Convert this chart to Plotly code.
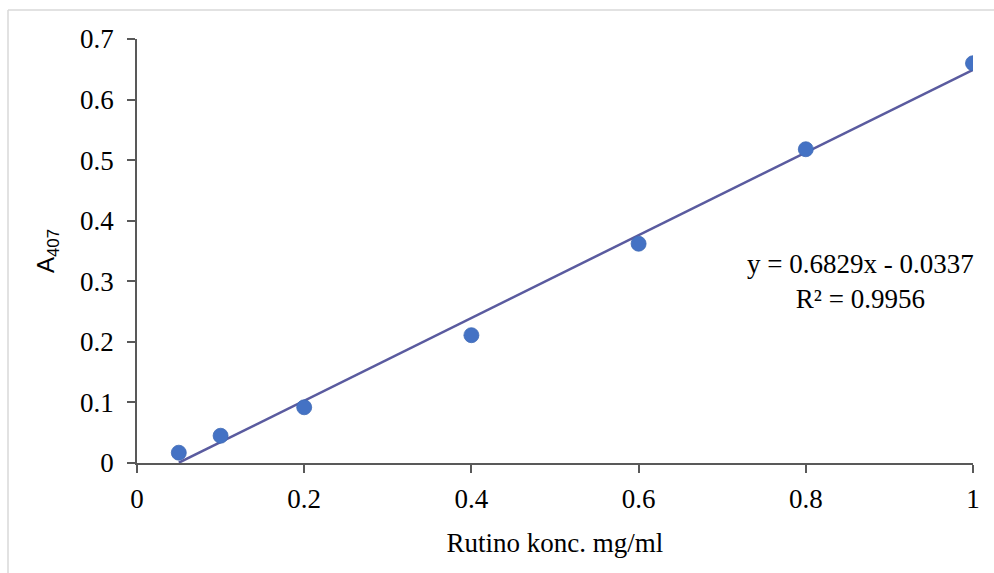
import plotly.graph_objects as go

# Rutin calibration data
conc = [0.05, 0.1, 0.2, 0.4, 0.6, 0.8, 1.0]
absorbance = [0.017, 0.045, 0.092, 0.211, 0.362, 0.518, 0.660]

# Linear fit reported on the chart
slope = 0.6829
intercept = -0.0337
r_squared = 0.9956

x_ticks = [0, 0.2, 0.4, 0.6, 0.8, 1]
y_ticks = [0, 0.1, 0.2, 0.3, 0.4, 0.5, 0.6, 0.7]

W, H = 994, 573
ML, MR, MT, MB = 137, 21, 39, 110
pw, ph = W - ML - MR, H - MT - MB

serif = "Liberation Serif, Times New Roman, serif"
axis_col = "#595959"

fit_x = [min(conc), max(conc)]
fit_y = [slope * v + intercept for v in fit_x]

fig = go.Figure()
fig.add_trace(go.Scatter(
    x=fit_x, y=fit_y, mode="lines",
    line=dict(color="#5a5b9f", width=2.5),
    showlegend=False, hoverinfo="skip",
))
fig.add_trace(go.Scatter(
    x=conc, y=absorbance, mode="markers",
    marker=dict(size=15, color="#4472C4", line=dict(color="#3f69b5", width=0.8)),
    showlegend=False,
))

fig.update_layout(
    width=W, height=H,
    margin=dict(l=ML, r=MR, t=MT, b=MB),
    paper_bgcolor="white", plot_bgcolor="white",
    font=dict(family=serif, size=27, color="#000000"),
    xaxis=dict(
        range=[0, 1], tickvals=x_ticks, ticktext=[f"{v:g}" for v in x_ticks],
        showgrid=False, zeroline=False,
        showline=True, linecolor=axis_col, linewidth=1.5,
        ticks="outside", ticklen=8, tickwidth=1.5, tickcolor=axis_col,
        ticklabelstandoff=3,
        title=dict(text="Rutino konc. mg/ml", standoff=20,
                   font=dict(family=serif, size=27)),
    ),
    yaxis=dict(
        range=[0, 0.7], tickvals=y_ticks, ticktext=[f"{v:g}" for v in y_ticks],
        showgrid=False, zeroline=False,
        showline=True, linecolor=axis_col, linewidth=1.5,
        ticks="outside", ticklen=8, tickwidth=1.5, tickcolor=axis_col,
        ticklabelstandoff=8,
        title=dict(text="A<sub>407</sub>", standoff=19,
                   font=dict(family="Liberation Sans, Arial, sans-serif", size=24)),
    ),
)

sign = "-" if intercept < 0 else "+"
eq_text = f"y = {slope:.4f}x {sign} {abs(intercept):.4f}<br>R² = {r_squared:.4f}"
fig.add_annotation(
    x=(860 - ML) / pw, y=(H - MB - 281) / ph, xref="paper", yref="paper",
    xanchor="center", yanchor="middle",
    text=eq_text, showarrow=False, align="center",
    font=dict(family=serif, size=27, color="#000000"),
)

# Chart-area frame (left and top edges)
frame_col = "#d9d9d9"
fx0 = (8 - ML) / pw
fy1 = (H - MB - 10) / ph
fig.add_shape(type="line", xref="paper", yref="paper",
              x0=fx0, x1=fx0, y0=fy1, y1=-0.5,
              line=dict(color=frame_col, width=1.5))
fig.add_shape(type="line", xref="paper", yref="paper",
              x0=fx0, x1=1.2, y0=fy1, y1=fy1,
              line=dict(color=frame_col, width=1.5))

fig.write_html("out.html")
